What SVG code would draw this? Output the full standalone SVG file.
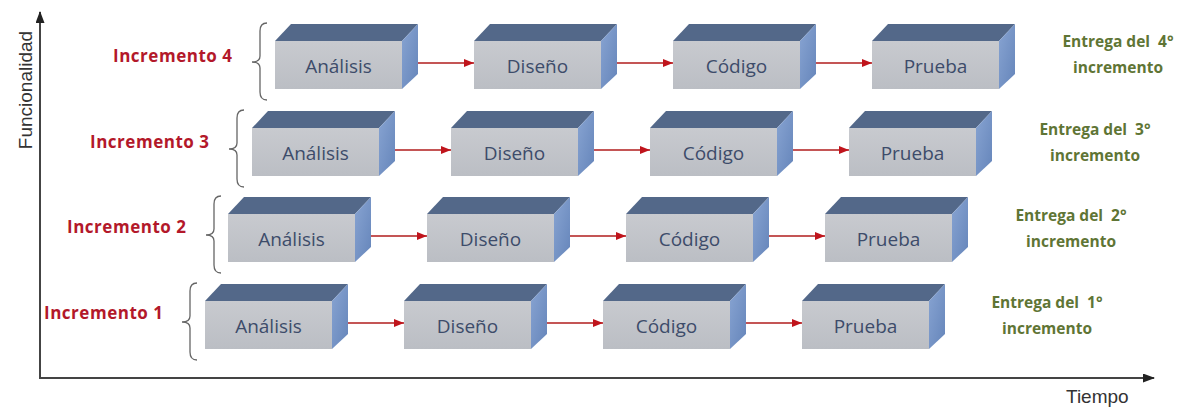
<svg xmlns="http://www.w3.org/2000/svg" xmlns:xlink="http://www.w3.org/1999/xlink" width="1183" height="407" viewBox="0 0 1183 407">
<style>
.box{font-family:"Open Sans","Liberation Sans",sans-serif;font-size:19px;fill:#3d4c6a;text-anchor:middle}
.inc{font-family:"Open Sans","Liberation Sans",sans-serif;font-size:17px;font-weight:bold;fill:#b3182a}
.ent{font-family:"Open Sans","Liberation Sans",sans-serif;font-size:15.5px;font-weight:bold;fill:#5f7535;text-anchor:middle;white-space:pre}
.axl{font-family:"Liberation Sans",Arial,sans-serif;font-size:19px;fill:#333}
.brace{fill:none;stroke:#666;stroke-width:1.3}
.arr{stroke:#b01c1c;stroke-width:1.6;fill:none;marker-end:url(#ah)}
.axis{stroke:#444;stroke-width:2;fill:none}
</style>
<defs>
<linearGradient id="gf" x1="0" y1="0" x2="0" y2="1"><stop offset="0" stop-color="#c8cacf"/><stop offset="1" stop-color="#bbbec4"/></linearGradient>
<linearGradient id="gs" x1="0" y1="0" x2="1" y2="1"><stop offset="0" stop-color="#88a4d2"/><stop offset="1" stop-color="#6585ba"/></linearGradient>
<g id="cube">
<rect x="0" y="0" width="127" height="48" fill="url(#gf)"/>
<polygon points="0,0 16,-17 143,-17 127,0" fill="#536889"/>
<polygon points="127,0 143,-17 143,33 127,48" fill="url(#gs)"/>
</g>
<marker id="ah" markerWidth="10" markerHeight="8" refX="10" refY="4" orient="auto" markerUnits="userSpaceOnUse"><polygon points="0,0 10,4 0,8" fill="#c0141c"/></marker>
<marker id="axh" markerWidth="12" markerHeight="9" refX="11" refY="4.5" orient="auto" markerUnits="userSpaceOnUse"><polygon points="0,0 12,4.5 0,9" fill="#222"/></marker>
</defs>
<rect width="1183" height="407" fill="#fff"/>

<g id="axes">
<path class="axis" d="M40,378 V12" marker-end="url(#axh)"/>
<path class="axis" d="M39,378 H1154" marker-end="url(#axh)"/>
<text class="axl" transform="translate(32,90) rotate(-90)" text-anchor="middle">Funcionalidad</text>
<text class="axl" x="1066" y="403">Tiempo</text>
</g>

<g id="labels">
<text class="inc" x="113" y="62" textLength="119">Incremento 4</text>
<text class="inc" x="90" y="148" textLength="119">Incremento 3</text>
<text class="inc" x="67" y="233" textLength="119">Incremento 2</text>
<text class="inc" x="44" y="319" textLength="119">Incremento 1</text>
</g>

<g id="braces">
<path class="brace" d="M267,23 Q260,23 260,31 L260,56 Q260,62 252,62 Q260,62 260,68 L260,92 Q260,100 267,100"/>
<path class="brace" d="M244,110 Q237,110 237,118 L237,143 Q237,149 229,149 Q237,149 237,155 L237,179 Q237,187 244,187"/>
<path class="brace" d="M221,196 Q214,196 214,204 L214,229 Q214,235 206,235 Q214,235 214,241 L214,265 Q214,273 221,273"/>
<path class="brace" d="M197,283 Q190,283 190,291 L190,316 Q190,322 182,322 Q190,322 190,328 L190,352 Q190,360 197,360"/>
</g>

<g id="connectors">
<path class="arr" d="M410,63 H474"/>
<path class="arr" d="M609,63 H673"/>
<path class="arr" d="M808,63 H872"/>
<path class="arr" d="M387,150 H451"/>
<path class="arr" d="M586,150 H650"/>
<path class="arr" d="M785,150 H849"/>
<path class="arr" d="M363,236 H427"/>
<path class="arr" d="M562,236 H626"/>
<path class="arr" d="M761,236 H825"/>
<path class="arr" d="M340,323 H404"/>
<path class="arr" d="M539,323 H603"/>
<path class="arr" d="M738,323 H802"/>
</g>

<g id="r4-analisis"><use xlink:href="#cube" x="275" y="41"/><text class="box" x="338.5" y="73">Análisis</text></g>
<g id="r4-diseno"><use xlink:href="#cube" x="474" y="41"/><text class="box" x="537.5" y="73">Diseño</text></g>
<g id="r4-codigo"><use xlink:href="#cube" x="673" y="41"/><text class="box" x="736.5" y="73">Código</text></g>
<g id="r4-prueba"><use xlink:href="#cube" x="872" y="41"/><text class="box" x="935.5" y="73">Prueba</text></g>

<g id="r3-analisis"><use xlink:href="#cube" x="252" y="128"/><text class="box" x="315.5" y="160">Análisis</text></g>
<g id="r3-diseno"><use xlink:href="#cube" x="451" y="128"/><text class="box" x="514.5" y="160">Diseño</text></g>
<g id="r3-codigo"><use xlink:href="#cube" x="650" y="128"/><text class="box" x="713.5" y="160">Código</text></g>
<g id="r3-prueba"><use xlink:href="#cube" x="849" y="128"/><text class="box" x="912.5" y="160">Prueba</text></g>

<g id="r2-analisis"><use xlink:href="#cube" x="228" y="214"/><text class="box" x="291.5" y="246">Análisis</text></g>
<g id="r2-diseno"><use xlink:href="#cube" x="427" y="214"/><text class="box" x="490.5" y="246">Diseño</text></g>
<g id="r2-codigo"><use xlink:href="#cube" x="626" y="214"/><text class="box" x="689.5" y="246">Código</text></g>
<g id="r2-prueba"><use xlink:href="#cube" x="825" y="214"/><text class="box" x="888.5" y="246">Prueba</text></g>

<g id="r1-analisis"><use xlink:href="#cube" x="205" y="301"/><text class="box" x="268.5" y="333">Análisis</text></g>
<g id="r1-diseno"><use xlink:href="#cube" x="404" y="301"/><text class="box" x="467.5" y="333">Diseño</text></g>
<g id="r1-codigo"><use xlink:href="#cube" x="603" y="301"/><text class="box" x="666.5" y="333">Código</text></g>
<g id="r1-prueba"><use xlink:href="#cube" x="802" y="301"/><text class="box" x="865.5" y="333">Prueba</text></g>

<g id="entregas">
<text class="ent" x="1118" y="47">Entrega del  4°</text>
<text class="ent" x="1118" y="73">incremento</text>
<text class="ent" x="1095" y="135">Entrega del  3°</text>
<text class="ent" x="1095" y="161">incremento</text>
<text class="ent" x="1071" y="221">Entrega del  2°</text>
<text class="ent" x="1071" y="247">incremento</text>
<text class="ent" x="1047" y="308">Entrega del  1°</text>
<text class="ent" x="1047" y="334">incremento</text>
</g>
</svg>
